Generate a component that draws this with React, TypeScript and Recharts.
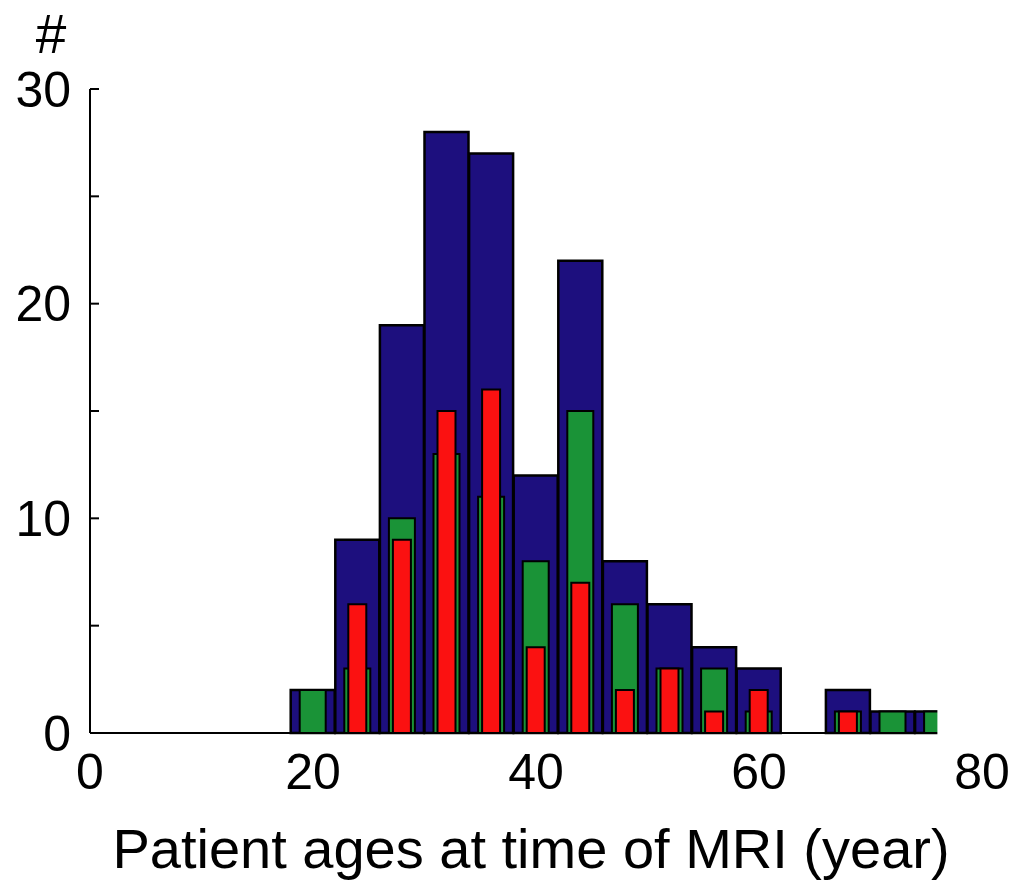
import React from "react";
import {
  ComposedChart,
  Bar,
  XAxis,
  YAxis,
  ReferenceArea,
} from "recharts";

// page has no css of its own; drop the default body margin so the chart fills the window
document.body.style.margin = "0";

// bin centres (4-year bins, 18-22, 22-26, ...)
const ageBins = [20, 24, 28, 32, 36, 40, 44, 48, 52, 56, 60, 64, 68, 72, 76];
const allPatients = [2, 9, 19, 28, 27, 12, 22, 8, 6, 4, 3, 0, 2, 1, 1];
const groupGreen = [2, 3, 10, 13, 11, 8, 15, 6, 3, 3, 1, 0, 1, 1, 1];
const groupRed = [0, 6, 9, 15, 16, 4, 7, 2, 3, 1, 2, 0, 1, 0, 0];

const xTicks = [0, 20, 40, 60, 80];
const yTicks = [0, 5, 10, 15, 20, 25, 30];

const data = ageBins.map((age, i) => ({
  age,
  all: allPatients[i],
  green: groupGreen[i],
  red: groupRed[i],
}));

const FONT = "'Liberation Sans', Arial, Helvetica, sans-serif";

export default function App() {
  return (
    <ComposedChart
      width={1011}
      height={880}
      data={data}
      barCategoryGap={0}
      barGap={0}
      margin={{ top: 89, right: 29, bottom: 0, left: 0 }}
    >
      <XAxis
        dataKey="age"
        type="number"
        domain={[0, 80]}
        ticks={xTicks}
        tickLine={false}
        tickSize={6}
        tickMargin={14}
        axisLine={{ stroke: "#000", strokeWidth: 2 }}
        tick={{ fontSize: 50, fill: "#000", fontFamily: FONT }}
        height={147}
        label={{
          value: "Patient ages at time of MRI (year)",
          position: "insideBottom",
          offset: 12,
          dx: -5,
          fontSize: 56,
          fill: "#000",
          fontFamily: FONT,
        }}
      />
      <XAxis xAxisId="g" dataKey="age" type="number" domain={[0, 80]} hide />
      <XAxis xAxisId="r" dataKey="age" type="number" domain={[0, 80]} hide />
      <YAxis
        domain={[0, 30]}
        ticks={yTicks}
        width={90}
        tickSize={-9}
        tickMargin={28}
        tickFormatter={(v: number) => (v % 10 === 0 ? `${v}` : "")}
        axisLine={{ stroke: "#000", strokeWidth: 2 }}
        tickLine={{ stroke: "#000", strokeWidth: 2 }}
        tick={{ fontSize: 50, fill: "#000", fontFamily: FONT }}
        label={{
          value: "#",
          position: "top",
          offset: 36,
          dx: 6,
          fontSize: 55,
          fill: "#000",
          fontFamily: FONT,
        }}
      />
      <Bar
        dataKey="all"
        fill="#1d0f7e"
        stroke="#000"
        strokeWidth={2.5}
        barSize={44}
        isAnimationActive={false}
      />
      <Bar
        dataKey="green"
        xAxisId="g"
        fill="#1a9337"
        stroke="#000"
        strokeWidth={2}
        barSize={26}
        isAnimationActive={false}
      />
      <Bar
        dataKey="red"
        xAxisId="r"
        fill="#fb1111"
        stroke="#000"
        strokeWidth={2}
        barSize={18}
        isAnimationActive={false}
      />
      {/* original figure is cropped at 76 years */}
      <ReferenceArea
        x1={76}
        x2={80}
        y1={-0.4}
        y2={30}
        fill="#fff"
        fillOpacity={1}
        stroke="none"
        ifOverflow="visible"
        zIndex={2000}
      />
    </ComposedChart>
  );
}
